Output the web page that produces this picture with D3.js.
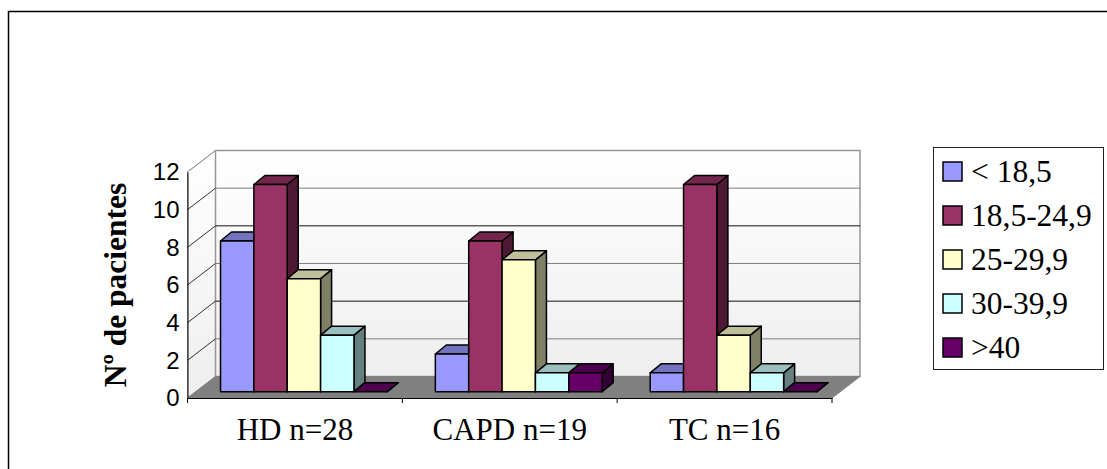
<!DOCTYPE html>
<html>
<head>
<meta charset="utf-8">
<script src="https://cdn.jsdelivr.net/npm/d3@7"></script>
<style>
  html, body { margin: 0; padding: 0; background: #fff; }
  svg { display: block; }
</style>
</head>
<body>
<div id="container"></div>
<script>
/* DATA */
const groups = ['HD n=28', 'CAPD n=19', 'TC n=16'];
const bmiClasses = ['< 18,5', '18,5-24,9', '25-29,9', '30-39,9', '>40'];
const under185 = [8, 2, 1];
const from185 = [11, 8, 11];
const from25 = [6, 7, 3];
const from30 = [3, 1, 1];
const over40 = [0, 1, 0];
const seriesValues = [under185, from185, from25, from30, over40];
const yTicks = [0, 2, 4, 6, 8, 10, 12];
const frontColors = ['#9999ff', '#993366', '#ffffcc', '#ccffff', '#660066'];
const topColors = ['#7373bf', '#73264d', '#bfbf99', '#99bfbf', '#4d004d'];
const sideColors = ['#4d4d80', '#4d1933', '#808066', '#668080', '#330033'];

/* CONSTANTS */
const width = 1107, height = 469;
const plot = { left: 187.5, right: 832, top: 172, bottom: 398 };
const wall = { dx: 28, dy: 21.5 };      // shift from front plane to back wall
const barDepth = { dx: 11, dy: 9 };     // depth of one bar
const barLift = { dx: 9, dy: 6.3 };     // bars stand a little behind the front edge

const xScale = d3.scaleBand()
  .domain(groups)
  .range([plot.left, plot.right]);

const seriesScale = d3.scaleBand()
  .domain(bmiClasses)
  .range([0, xScale.bandwidth()])
  .paddingOuter(0.72)
  .paddingInner(0);

const yScale = d3.scaleLinear()
  .domain([0, 12])
  .range([plot.bottom, plot.top]);

const svg = d3.select('#container')
  .append('svg')
  .attr('width', width)
  .attr('height', height);

const defs = svg.append('defs');
const wallGrad = defs.append('linearGradient')
  .attr('id', 'wallGrad')
  .attr('x1', 0).attr('x2', 0).attr('y1', 0).attr('y2', 1);
wallGrad.append('stop').attr('offset', '0%').attr('stop-color', '#ffffff');
wallGrad.append('stop').attr('offset', '100%').attr('stop-color', '#eeeeee');

// Outer frame, open at right and bottom
svg.append('path')
  .attr('d', `M8.5,469V11.5H1107`)
  .attr('fill', 'none')
  .attr('stroke', '#000')
  .attr('stroke-width', 1.5);

const line = d3.line();
const chart = svg.append('g');

// Side wall, back wall and floor
chart.append('path')
  .attr('d', line([[plot.left, yScale(0)], [plot.left, yScale(12)],
    [plot.left + wall.dx, yScale(12) - wall.dy], [plot.left + wall.dx, yScale(0) - wall.dy]]) + 'Z')
  .attr('fill', 'url(#wallGrad)')
  .attr('stroke', '#969696');

chart.append('rect')
  .attr('x', plot.left + wall.dx)
  .attr('y', yScale(12) - wall.dy)
  .attr('width', plot.right - plot.left)
  .attr('height', yScale(0) - yScale(12))
  .attr('fill', 'url(#wallGrad)')
  .attr('stroke', '#969696')
  .attr('stroke-width', 1.5);

chart.append('path')
  .attr('d', line([[plot.left, yScale(0)], [plot.right, yScale(0)],
    [plot.right + wall.dx, yScale(0) - wall.dy], [plot.left + wall.dx, yScale(0) - wall.dy]]) + 'Z')
  .attr('fill', '#808080')
  .attr('stroke', '#808080');

// Gridlines, the scan of the original leaves 4 and 8 darker
const gridValues = yTicks.filter(d => d > 0 && d < 12);
chart.selectAll('line.grid')
  .data(gridValues)
  .join('line')
  .attr('class', 'grid')
  .attr('x1', plot.left + wall.dx)
  .attr('x2', plot.right + wall.dx)
  .attr('y1', d => yScale(d) - wall.dy)
  .attr('y2', d => yScale(d) - wall.dy)
  .attr('stroke', d => (d === 4 || d === 8) ? '#111' : '#808080')
  .attr('stroke-width', 1);

chart.selectAll('line.grid-side')
  .data(yTicks.filter(d => d > 0))
  .join('line')
  .attr('class', 'grid-side')
  .attr('x1', plot.left)
  .attr('x2', plot.left + wall.dx)
  .attr('y1', d => yScale(d))
  .attr('y2', d => yScale(d) - wall.dy)
  .attr('stroke', d => d === 12 ? '#969696' : '#333')
  .attr('stroke-width', 1);

// Bars: one group per category, series left to right so each covers the last one's side
const bars = [];
groups.forEach((g, i) => {
  bmiClasses.forEach((c, j) => {
    bars.push({ group: g, bmi: c, value: seriesValues[j][i], j: j });
  });
});

const barG = chart.selectAll('g.bar')
  .data(bars)
  .join('g')
  .attr('class', 'bar')
  .attr('stroke', '#000')
  .attr('stroke-width', 1.5)
  .attr('stroke-linejoin', 'round');

const bx0 = d => xScale(d.group) + seriesScale(d.bmi) + barLift.dx;
const bx1 = d => bx0(d) + seriesScale.bandwidth();
const byTop = d => yScale(d.value) - barLift.dy;
const byBase = () => yScale(0) - barLift.dy;

barG.append('path')
  .attr('fill', d => sideColors[d.j])
  .attr('d', d => line([[bx1(d), byTop(d)], [bx1(d) + barDepth.dx, byTop(d) - barDepth.dy],
    [bx1(d) + barDepth.dx, byBase() - barDepth.dy], [bx1(d), byBase()]]) + 'Z');

barG.append('path')
  .attr('fill', d => topColors[d.j])
  .attr('d', d => line([[bx0(d), byTop(d)], [bx1(d), byTop(d)],
    [bx1(d) + barDepth.dx, byTop(d) - barDepth.dy], [bx0(d) + barDepth.dx, byTop(d) - barDepth.dy]]) + 'Z');

barG.append('rect')
  .attr('fill', d => frontColors[d.j])
  .attr('x', bx0)
  .attr('y', byTop)
  .attr('width', seriesScale.bandwidth())
  .attr('height', d => byBase() - byTop(d));

// Axes
const yAxis = chart.append('g')
  .attr('transform', `translate(${plot.left},0)`)
  .call(d3.axisLeft(yScale).tickValues(yTicks).tickSize(0).tickPadding(8).tickFormat(d3.format('d')));
yAxis.select('.domain').attr('stroke', '#000').attr('stroke-width', 1);
yAxis.selectAll('text')
  .attr('font-family', '"Liberation Sans", Arial, sans-serif')
  .attr('font-size', 24)
  .attr('fill', '#000');

const xAxis = chart.append('g')
  .attr('transform', `translate(0,${plot.bottom})`)
  .call(d3.axisBottom(xScale).tickSize(0).tickPadding(20));
xAxis.select('.domain').attr('stroke', '#000').attr('stroke-width', 1);
xAxis.selectAll('text')
  .attr('font-family', '"Liberation Serif", "Times New Roman", serif')
  .attr('font-size', 31)
  .attr('fill', '#000');

// x ticks sit between the categories
chart.selectAll('line.x-tick')
  .data(groups.concat('end'))
  .join('line')
  .attr('class', 'x-tick')
  .attr('x1', (d, i) => plot.left + i * xScale.step())
  .attr('x2', (d, i) => plot.left + i * xScale.step())
  .attr('y1', plot.bottom)
  .attr('y2', plot.bottom + 5)
  .attr('stroke', '#000');

// y axis title
svg.append('text')
  .attr('transform', 'translate(126,285) rotate(-90)')
  .attr('text-anchor', 'middle')
  .attr('font-family', '"Liberation Serif", "Times New Roman", serif')
  .attr('font-weight', 'bold')
  .attr('font-size', 31.5)
  .attr('fill', '#000')
  .text('Nº de pacientes');

// Legend
const legend = svg.append('g');
legend.append('rect')
  .attr('x', 933.5).attr('y', 147.5)
  .attr('width', 170).attr('height', 222)
  .attr('fill', '#fff')
  .attr('stroke', '#222')
  .attr('stroke-width', 1);

const legendY = d3.scalePoint()
  .domain(bmiClasses)
  .range([172, 348]);

const legendRow = legend.selectAll('g.row')
  .data(bmiClasses)
  .join('g')
  .attr('class', 'row')
  .attr('transform', d => `translate(0,${legendY(d)})`);

legendRow.append('rect')
  .attr('x', 943).attr('y', -10)
  .attr('width', 19).attr('height', 19)
  .attr('fill', (d, i) => frontColors[i])
  .attr('stroke', '#000')
  .attr('stroke-width', 1.5);

legendRow.append('text')
  .attr('x', 971)
  .attr('y', 10)
  .attr('font-family', '"Liberation Serif", "Times New Roman", serif')
  .attr('font-size', 31.5)
  .attr('fill', '#000')
  .text(d => d);
</script>
</body>
</html>
